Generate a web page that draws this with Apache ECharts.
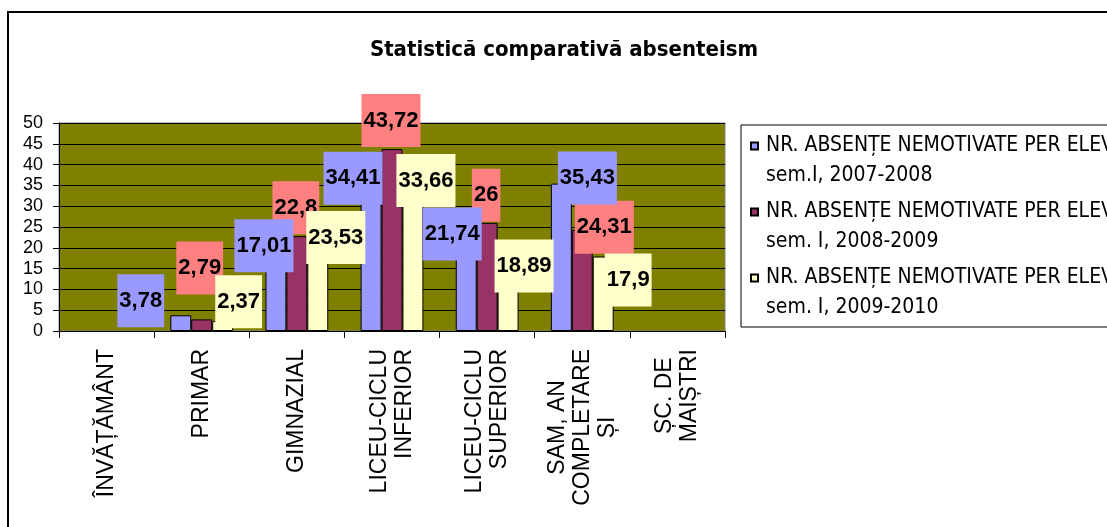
<!DOCTYPE html>
<html>
<head>
<meta charset="utf-8">
<title>Statistică comparativă absenteism</title>
<script src="https://cdn.jsdelivr.net/npm/echarts@6/dist/echarts.min.js"></script>
<style>
  html, body { margin: 0; padding: 0; background: #fff; overflow: hidden; }
  #chart { width: 1107px; height: 527px; }
  /* chenar exterior al diagramei (iese din imagine la dreapta si jos) */
  .frame { position: absolute; left: 7px; top: 11px; width: 1200px; height: 600px; border: 2px solid #000; pointer-events: none; }
</style>
</head>
<body>
<div id="chart"></div>
<div class="frame"></div>
<script>
// categorii (prima si ultima fara valori)
const categories = [
  'ÎNVĂȚĂMÂNT',
  'PRIMAR',
  'GIMNAZIAL',
  'LICEU-CICLU\nINFERIOR',
  'LICEU-CICLU\nSUPERIOR',
  'SAM, AN\nCOMPLETARE\nȘI',
  'ȘC. DE\nMAIȘTRI'
];

const seriesNames = [
  'NR. ABSENȚE NEMOTIVATE PER ELEV\nsem.I, 2007-2008',
  'NR. ABSENȚE NEMOTIVATE PER ELEV\nsem. I, 2008-2009',
  'NR. ABSENȚE NEMOTIVATE PER ELEV\nsem. I, 2009-2010'
];

const sem2007 = ['-', 3.78, 17.01, 34.41, 21.74, 35.43, '-'];
const sem2008 = ['-', 2.79, 22.8, 43.72, 26, 24.31, '-'];
const sem2009 = ['-', 2.37, 23.53, 33.66, 18.89, 17.9, '-'];

const yTicks = { min: 0, max: 50, interval: 5 };

// deplasarea etichetelor fata de capatul barei (mutate manual in original)
const shift2007 = [null, [-40, 12], [-12, 12], [-18, 17], [-14, 20], [26, 21], null];
const shift2008 = [null, [-2, -25], [-1, -2], [-1, -2], [-1, -1], [22, 24], null];
const shift2009 = [null, [16, 7], [18, 31], [13, 16], [16, 40], [25, 50], null];

const NARROW = "'DejaVu Sans Condensed', 'Liberation Sans Narrow', sans-serif";
const ARIAL = "'Liberation Sans', Arial, sans-serif";

function makeSeries(name, values, shifts, color, labelBg, z) {
  return {
    name: name,
    type: 'bar',
    z: z,
    barGap: '0%',
    barCategoryGap: '34%',
    data: values.map((v, i) => v === '-' ? '-' : { value: v, label: { offset: shifts[i] } }),
    itemStyle: { color: color, borderColor: '#000', borderWidth: 1 },
    label: {
      show: true,
      position: 'top',
      distance: 0,
      formatter: p => String(p.value).replace('.', ','),
      backgroundColor: labelBg,
      padding: [14, 2],
      fontFamily: ARIAL,
      fontWeight: 'bold',
      fontSize: 22,
      lineHeight: 25,
      color: '#000'
    }
  };
}

// etichetele axei x (rotite): LICEU aliniate spre axa, restul centrate
const catFont = { fontFamily: ARIAL, fontSize: 23, lineHeight: 25, color: '#000' };
const catRich = {
  c: Object.assign({ align: 'center' }, catFont),
  r: Object.assign({ align: 'right' }, catFont)
};

const chart = echarts.init(document.getElementById('chart'));
const option = {
  backgroundColor: 'transparent',
  animation: false,
  title: {
    text: 'Statistică comparativă absenteism',
    left: 564,
    top: 38,
    padding: 0,
    textAlign: 'center',
    textStyle: { fontFamily: NARROW, fontWeight: 'bold', fontSize: 22, lineHeight: 24, color: '#000' }
  },
  legend: {
    orient: 'vertical',
    left: 741,
    top: 125,
    padding: [6, 40, 4, 9],
    itemGap: 6,
    itemWidth: 10,
    itemHeight: 37,
    icon: 'path://M0,0H7V7H0Z M10,37',
    borderColor: '#000',
    borderWidth: 1,
    borderRadius: 0,
    backgroundColor: '#fff',
    textStyle: { fontFamily: NARROW, fontSize: 21, lineHeight: 30, color: '#000' }
  },
  grid: {
    left: 59,
    right: 382,
    top: 123,
    bottom: 196,
    show: true,
    backgroundColor: '#808000',
    borderColor: '#808080',
    borderWidth: 1
  },
  xAxis: {
    type: 'category',
    data: categories,
    axisLine: { show: true, lineStyle: { color: '#000', width: 1 } },
    axisTick: { show: true, length: 7, interval: 0, lineStyle: { color: '#000' } },
    splitLine: { show: false },
    axisLabel: {
      interval: 0,
      rotate: 90,
      margin: 18,
      formatter: v => (v.indexOf('LICEU') === 0 ? '{r|' : '{c|') + v + '}',
      rich: catRich
    }
  },
  yAxis: {
    type: 'value',
    min: yTicks.min,
    max: yTicks.max,
    interval: yTicks.interval,
    axisLine: { show: true, lineStyle: { color: '#000', width: 1 } },
    axisTick: { show: true, length: 6, lineStyle: { color: '#000' } },
    splitLine: { show: true, lineStyle: { color: '#000', width: 1 } },
    axisLabel: { margin: 16, fontFamily: ARIAL, fontSize: 18, color: '#000' }
  },
  series: [
    makeSeries(seriesNames[0], sem2007, shift2007, '#9999FF', '#9999FF', 3),
    makeSeries(seriesNames[1], sem2008, shift2008, '#993366', '#FF8080', 2),
    makeSeries(seriesNames[2], sem2009, shift2009, '#FFFFCC', '#FFFFCC', 3)
  ]
};
chart.setOption(option);

window.addEventListener('resize', () => {
  chart.resize();
});
</script>
</body>
</html>
